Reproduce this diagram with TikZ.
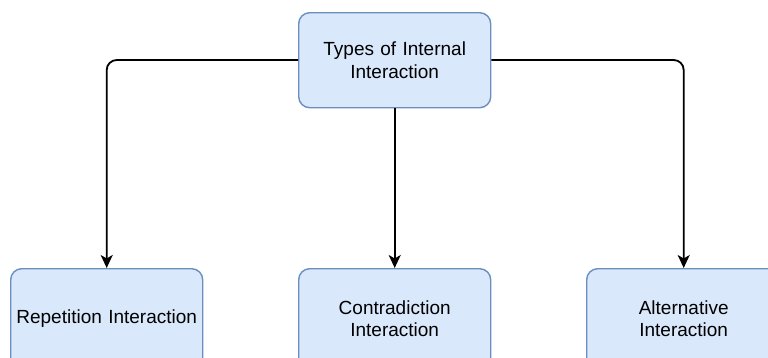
\documentclass[tikz,border=0pt]{standalone}
\usepackage{fontspec}
\setmainfont{Liberation Sans}
\usetikzlibrary{arrows.meta}
\begin{document}
\begin{tikzpicture}[x=1pt,y=-1pt,
  box/.style={draw=boxline, fill=boxfill, line width=1.4pt, rounded corners=11pt,
    minimum width=192pt, text width=190pt, align=center, inner sep=0pt,
    font=\fontsize{19}{22.5}\selectfont, anchor=north west},
  link/.style={draw=black, line width=1.8pt, rounded corners=10pt,
    -{Stealth[length=13pt,width=12pt,inset=3.5pt]}}]
\definecolor{boxfill}{HTML}{DAE8FC}
\definecolor{boxline}{HTML}{6C8EBF}
\useasboundingbox (0,0) rectangle (768,357);
\clip (0,0) rectangle (768,357);
% root box
\node[box, minimum height=95pt] (root) at (298,12) {Types of Internal\\Interaction};
% leaf boxes, running off the lower edge
\node[box, minimum height=100pt] (rep) at (10,268) {Repetition Interaction};
\node[box, minimum height=100pt] (con) at (298,268) {Contradiction\\Interaction};
\node[box, minimum height=100pt, minimum width=194pt] (alt) at (586,268) {Alternative\\Interaction};
% connectors
\draw[link] (root.west |- 0,60) -| (rep.north);
\draw[link] (root.south) -- (con.north);
\draw[link] (root.east |- 0,60) -| (alt.north);
\end{tikzpicture}
\end{document}
